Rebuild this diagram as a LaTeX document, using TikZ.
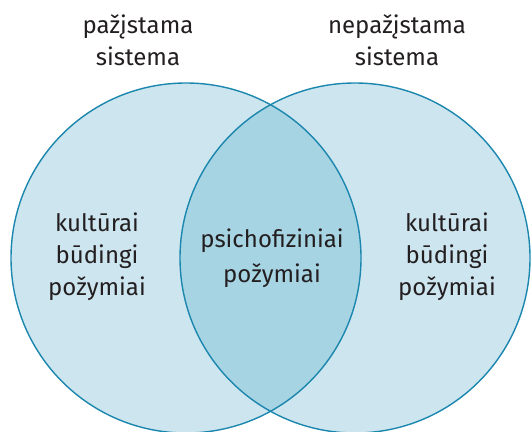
\documentclass[tikz,border=0pt]{standalone}
\usepackage{fontspec}
\setmainfont{Fira Sans}
\definecolor{circfill}{HTML}{CDE5EF}
\definecolor{overfill}{HTML}{A7D4E3}
\definecolor{circline}{HTML}{1B87AE}
\definecolor{txt}{HTML}{231F20}
\begin{document}
\begin{tikzpicture}[x=1pt,y=-1pt,
  lbl/.style={align=center,text=txt,font=\fontsize{24}{32}\selectfont,inner sep=0pt},
  circ/.style={draw=circline,line width=1.4pt}]
\useasboundingbox (0,0) rectangle (532,431);
\begin{scope}
\clip (0,0) rectangle (532,431);
\coordinate (cl) at (186,258);
\coordinate (cr) at (355,258);
\fill[circfill] (cl) circle[radius=175];
\fill[circfill] (cr) circle[radius=175];
\begin{scope}
\clip (cl) circle[radius=175];
\fill[overfill] (cr) circle[radius=175];
\end{scope}
\draw[circ] (cl) circle[radius=175];
\draw[circ] (cr) circle[radius=175];
\end{scope}
\node[lbl,anchor=base] (tl) at (138,65) {pažįstama\\sistema};
\node[lbl,anchor=base] (tr) at (397,65) {nepažįstama\\sistema};
\node[lbl,anchor=base] (l) at (97,295) {kultūrai\\būdingi\\požymiai};
\node[lbl,anchor=base] (r) at (447,295) {kultūrai\\būdingi\\požymiai};
\node[lbl,anchor=base,font=\fontsize{24}{35}\selectfont] (m) at (272,282) {psichofiziniai\\požymiai};
\end{tikzpicture}
\end{document}
